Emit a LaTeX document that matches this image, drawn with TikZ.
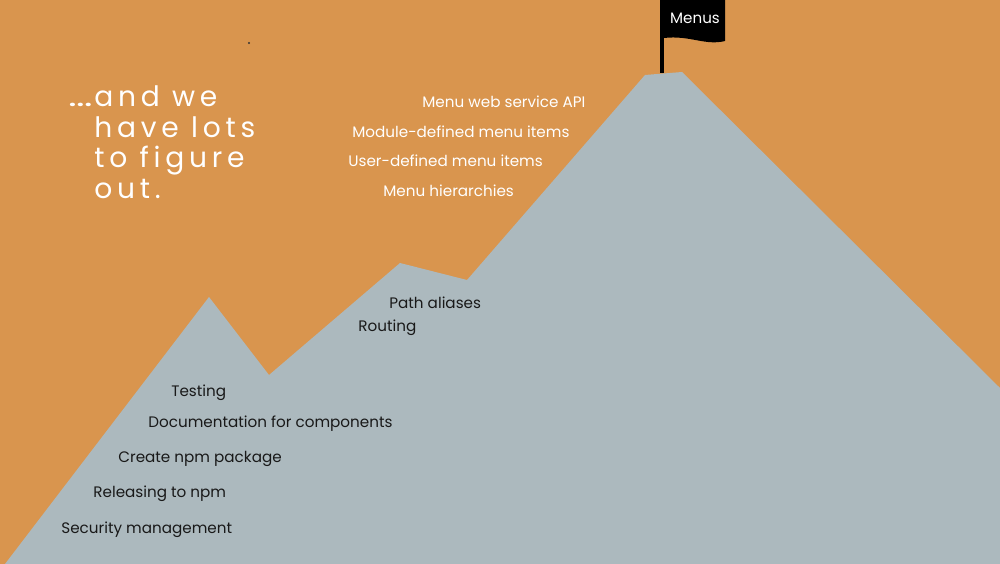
\documentclass[tikz,border=0pt]{standalone}
\usepackage{fontspec}
\setmainfont{Poppins}
\newfontfamily\titlefont[LetterSpace=17]{Poppins}
\definecolor{bgorange}{RGB}{217,149,78}
\definecolor{rockgray}{RGB}{172,185,190}
\definecolor{labeldark}{RGB}{25,25,25}
\tikzset{
  item/.style={anchor=west, inner sep=0pt, text=labeldark, font=\fontsize{8.65}{10}\selectfont},
  goal/.style={item, text=white},
  title/.style={anchor=north west, inner sep=0pt, text=white, align=left, font=\titlefont\fontsize{16}{17.6}\selectfont}
}
\begin{document}
\begin{tikzpicture}[x=0.02cm, y=-0.02cm]
\useasboundingbox (0,0) rectangle (1000,564);
\fill[bgorange] (0,0) rectangle (1000,564);
% mountain
\fill[rockgray] (5,564) -- (209,297) -- (269,375) -- (400,263) -- (467,280) -- (645,75) -- (682,72) -- (1000,388) -- (1000,564) -- cycle;
% flag on the summit
\fill[black] (660,0) rectangle (664,73);
\fill[black] (664,0) -- (725,0) -- (725,41) .. controls (705,46) and (690,35) .. (664,38) -- cycle;
\node[text=white, inner sep=0pt, font=\fontsize{8.6}{10}\selectfont] (menus) at (695,18) {Menus};
\fill[black!80] (249,43) circle (1.2);
% title
\node[title] (intro) at (94,85) {\llap{\scalebox{1.5}[1]{…}\kern1pt}and we\\have lots\\to figure\\out.};
% goals near the top
\node[goal] (api) at (422,102) {Menu web service API};
\node[goal] (module) at (352,132) {Module-defined menu items};
\node[goal] (user) at (348,161) {User-defined menu items};
\node[goal] (hier) at (383,191) {Menu hierarchies};
% done so far
\node[item] (alias) at (389,303) {Path aliases};
\node[item] (routing) at (358,328) {Routing};
\node[item] (testing) at (171,393) {Testing};
\node[item] (docs) at (148,424) {Documentation for components};
\node[item] (npmpkg) at (118,459) {Create npm package};
\node[item] (release) at (93,494) {Releasing to npm};
\node[item] (security) at (61,530) {Security management};
\end{tikzpicture}
\end{document}
